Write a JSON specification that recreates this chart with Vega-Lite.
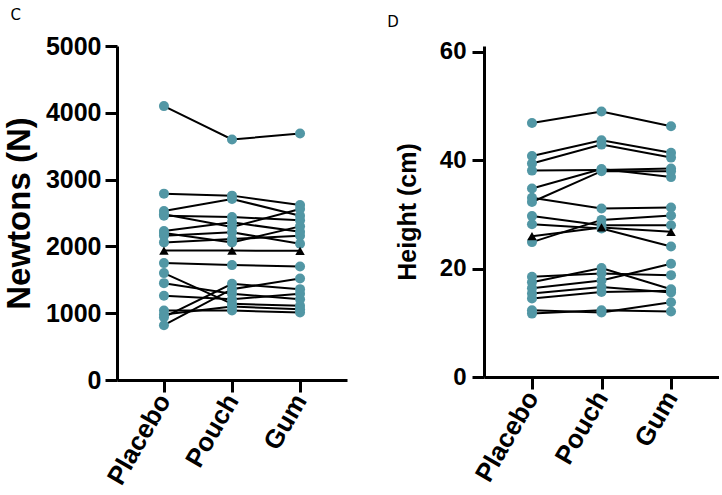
{
  "$schema": "https://vega.github.io/schema/vega-lite/v6.json",
  "background": "white",
  "padding": {"left": 3, "top": 8, "right": 0, "bottom": 0},
  "spacing": 40,
  "config": {
    "view": {"stroke": null},
    "axis": {
      "grid": false,
      "domainColor": "black", "domainWidth": 3,
      "tickColor": "black", "tickWidth": 3, "tickSize": 12,
      "labelColor": "black", "labelFont": "Liberation Sans", "labelFontWeight": "bold",
      "titleColor": "black", "titleFont": "Liberation Sans", "titleFontWeight": "bold",
      "labelPadding": 4
    },
    "title": {"font": "DejaVu Sans", "fontWeight": "normal", "fontSize": 15, "color": "black", "anchor": "start", "frame": "bounds"}
  },
  "datasets": {
    "C": [
      {"s": "1", "cond": "Placebo", "v": 4100}, {"s": "1", "cond": "Pouch", "v": 3600}, {"s": "1", "cond": "Gum", "v": 3690},
      {"s": "2", "cond": "Placebo", "v": 2790}, {"s": "2", "cond": "Pouch", "v": 2760}, {"s": "2", "cond": "Gum", "v": 2620},
      {"s": "3", "cond": "Placebo", "v": 2530}, {"s": "3", "cond": "Pouch", "v": 2710}, {"s": "3", "cond": "Gum", "v": 2460},
      {"s": "4", "cond": "Placebo", "v": 2480}, {"s": "4", "cond": "Pouch", "v": 2290}, {"s": "4", "cond": "Gum", "v": 2560},
      {"s": "5", "cond": "Placebo", "v": 2460}, {"s": "5", "cond": "Pouch", "v": 2440}, {"s": "5", "cond": "Gum", "v": 2390},
      {"s": "6", "cond": "Placebo", "v": 2230}, {"s": "6", "cond": "Pouch", "v": 2360}, {"s": "6", "cond": "Gum", "v": 2220},
      {"s": "7", "cond": "Placebo", "v": 2200}, {"s": "7", "cond": "Pouch", "v": 2060}, {"s": "7", "cond": "Gum", "v": 2300},
      {"s": "8", "cond": "Placebo", "v": 2160}, {"s": "8", "cond": "Pouch", "v": 2210}, {"s": "8", "cond": "Gum", "v": 2040},
      {"s": "9", "cond": "Placebo", "v": 2060}, {"s": "9", "cond": "Pouch", "v": 2110}, {"s": "9", "cond": "Gum", "v": 2160},
      {"s": "10", "cond": "Placebo", "v": 1750}, {"s": "10", "cond": "Pouch", "v": 1720}, {"s": "10", "cond": "Gum", "v": 1700},
      {"s": "11", "cond": "Placebo", "v": 1600}, {"s": "11", "cond": "Pouch", "v": 1140}, {"s": "11", "cond": "Gum", "v": 1110},
      {"s": "12", "cond": "Placebo", "v": 1450}, {"s": "12", "cond": "Pouch", "v": 1290}, {"s": "12", "cond": "Gum", "v": 1210},
      {"s": "13", "cond": "Placebo", "v": 1260}, {"s": "13", "cond": "Pouch", "v": 1210}, {"s": "13", "cond": "Gum", "v": 1290},
      {"s": "14", "cond": "Placebo", "v": 1040}, {"s": "14", "cond": "Pouch", "v": 1040}, {"s": "14", "cond": "Gum", "v": 1010},
      {"s": "15", "cond": "Placebo", "v": 980}, {"s": "15", "cond": "Pouch", "v": 1100}, {"s": "15", "cond": "Gum", "v": 1060},
      {"s": "16", "cond": "Placebo", "v": 940}, {"s": "16", "cond": "Pouch", "v": 1440}, {"s": "16", "cond": "Gum", "v": 1360},
      {"s": "17", "cond": "Placebo", "v": 820}, {"s": "17", "cond": "Pouch", "v": 1360}, {"s": "17", "cond": "Gum", "v": 1520},
      {"s": "Mean", "cond": "Placebo", "v": 1938}, {"s": "Mean", "cond": "Pouch", "v": 1938}, {"s": "Mean", "cond": "Gum", "v": 1934}
    ],
    "D": [
      {"s": "1", "cond": "Placebo", "v": 46.9}, {"s": "1", "cond": "Pouch", "v": 49.0}, {"s": "1", "cond": "Gum", "v": 46.3},
      {"s": "2", "cond": "Placebo", "v": 40.8}, {"s": "2", "cond": "Pouch", "v": 43.7}, {"s": "2", "cond": "Gum", "v": 41.4},
      {"s": "3", "cond": "Placebo", "v": 39.4}, {"s": "3", "cond": "Pouch", "v": 42.9}, {"s": "3", "cond": "Gum", "v": 40.5},
      {"s": "4", "cond": "Placebo", "v": 38.1}, {"s": "4", "cond": "Pouch", "v": 38.2}, {"s": "4", "cond": "Gum", "v": 38.5},
      {"s": "5", "cond": "Placebo", "v": 34.8}, {"s": "5", "cond": "Pouch", "v": 38.4}, {"s": "5", "cond": "Gum", "v": 36.9},
      {"s": "6", "cond": "Placebo", "v": 32.3}, {"s": "6", "cond": "Pouch", "v": 38.0}, {"s": "6", "cond": "Gum", "v": 38.0},
      {"s": "7", "cond": "Placebo", "v": 33.1}, {"s": "7", "cond": "Pouch", "v": 31.1}, {"s": "7", "cond": "Gum", "v": 31.3},
      {"s": "8", "cond": "Placebo", "v": 29.7}, {"s": "8", "cond": "Pouch", "v": 28.0}, {"s": "8", "cond": "Gum", "v": 28.0},
      {"s": "9", "cond": "Placebo", "v": 28.2}, {"s": "9", "cond": "Pouch", "v": 27.4}, {"s": "9", "cond": "Gum", "v": 24.1},
      {"s": "10", "cond": "Placebo", "v": 24.9}, {"s": "10", "cond": "Pouch", "v": 29.0}, {"s": "10", "cond": "Gum", "v": 29.8},
      {"s": "11", "cond": "Placebo", "v": 18.5}, {"s": "11", "cond": "Pouch", "v": 19.1}, {"s": "11", "cond": "Gum", "v": 18.8},
      {"s": "12", "cond": "Placebo", "v": 17.5}, {"s": "12", "cond": "Pouch", "v": 20.1}, {"s": "12", "cond": "Gum", "v": 16.2},
      {"s": "13", "cond": "Placebo", "v": 16.4}, {"s": "13", "cond": "Pouch", "v": 17.8}, {"s": "13", "cond": "Gum", "v": 20.9},
      {"s": "14", "cond": "Placebo", "v": 15.4}, {"s": "14", "cond": "Pouch", "v": 16.6}, {"s": "14", "cond": "Gum", "v": 15.6},
      {"s": "15", "cond": "Placebo", "v": 14.5}, {"s": "15", "cond": "Pouch", "v": 15.7}, {"s": "15", "cond": "Gum", "v": 15.9},
      {"s": "16", "cond": "Placebo", "v": 12.3}, {"s": "16", "cond": "Pouch", "v": 11.9}, {"s": "16", "cond": "Gum", "v": 13.8},
      {"s": "17", "cond": "Placebo", "v": 11.7}, {"s": "17", "cond": "Pouch", "v": 12.3}, {"s": "17", "cond": "Gum", "v": 12.1},
      {"s": "Mean", "cond": "Placebo", "v": 26.0}, {"s": "Mean", "cond": "Pouch", "v": 27.6}, {"s": "Mean", "cond": "Gum", "v": 26.8}
    ]
  },
  "hconcat": [
    {
      "width": 230, "height": 334,
      "data": {"name": "C"},
      "title": {"text": "C", "offset": 11, "dx": 7},
      "encoding": {
        "x": {"field": "cond", "type": "nominal", "sort": ["Placebo", "Pouch", "Gum"],
              "scale": {"type": "point", "padding": 0.69},
              "axis": {"title": null, "labelAngle": -60, "labelFontSize": 26, "labelPadding": 4}},
        "y": {"field": "v", "type": "quantitative", "scale": {"domain": [0, 5000], "nice": false},
              "axis": {"title": "Newtons (N)", "values": [0, 1000, 2000, 3000, 4000, 5000], "format": "d", "labelFontSize": 25, "titleFontSize": 33, "titlePadding": 9}}
      },
      "layer": [
        {"mark": {"type": "line", "color": "black", "strokeWidth": 2}, "encoding": {"detail": {"field": "s"}}},
        {"transform": [{"filter": "datum.s != 'Mean'"}], "mark": {"type": "circle", "color": "#5297A5", "opacity": 1, "size": 100}},
        {"transform": [{"filter": "datum.s == 'Mean'"}], "mark": {"type": "point", "shape": "triangle-up", "filled": true, "color": "black", "opacity": 1, "size": 90}}
      ]
    },
    {
      "width": 235, "height": 331,
      "data": {"name": "D"},
      "title": {"text": "D", "offset": 10, "dx": -8},
      "encoding": {
        "x": {"field": "cond", "type": "nominal", "sort": ["Placebo", "Pouch", "Gum"],
              "scale": {"type": "point", "padding": 0.69},
              "axis": {"title": null, "labelAngle": -60, "labelFontSize": 26, "labelPadding": 4}},
        "y": {"field": "v", "type": "quantitative", "scale": {"domain": [0, 61.1], "nice": false},
              "axis": {"title": "Height (cm)", "values": [0, 20, 40, 60], "format": "d", "labelFontSize": 24, "labelPadding": 6, "titleFontSize": 25, "titlePadding": 19}}
      },
      "layer": [
        {"mark": {"type": "line", "color": "black", "strokeWidth": 2}, "encoding": {"detail": {"field": "s"}}},
        {"transform": [{"filter": "datum.s != 'Mean'"}], "mark": {"type": "circle", "color": "#5297A5", "opacity": 1, "size": 100}},
        {"transform": [{"filter": "datum.s == 'Mean'"}], "mark": {"type": "point", "shape": "triangle-up", "filled": true, "color": "black", "opacity": 1, "size": 90}}
      ]
    }
  ]
}
